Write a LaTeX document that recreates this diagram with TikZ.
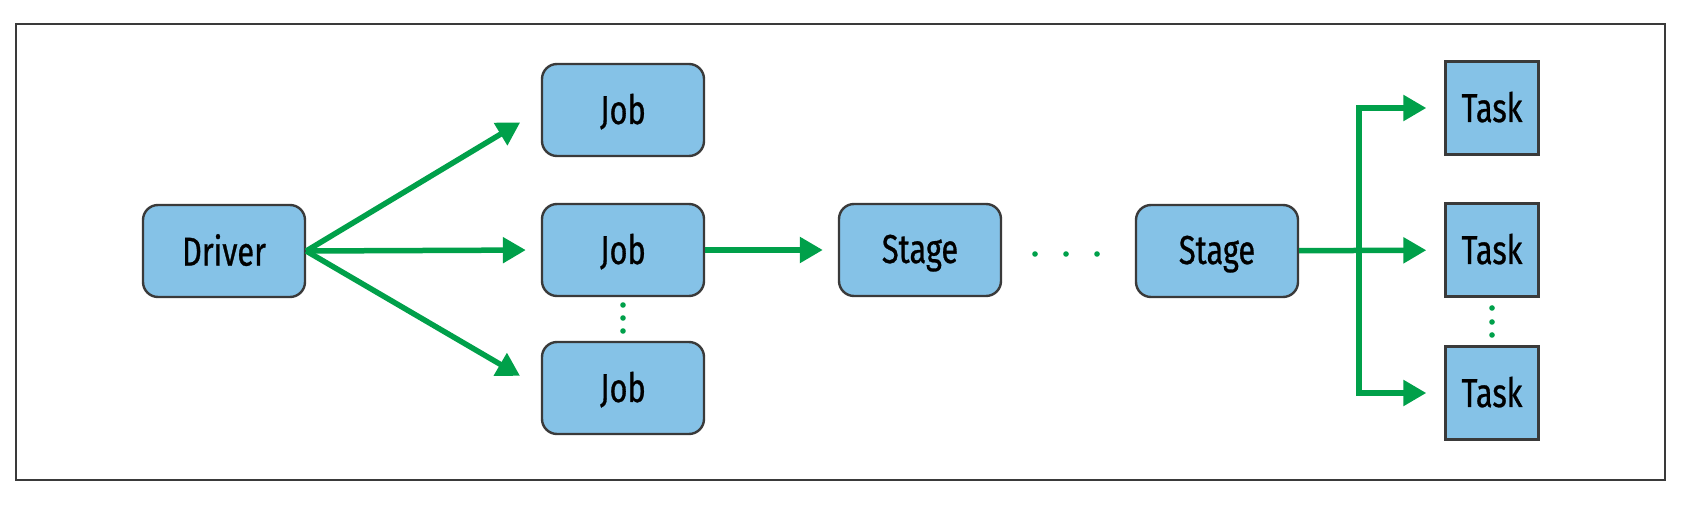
\documentclass[tikz,border=0pt]{standalone}
\usepackage{fontspec}
\setmainfont{Fira Sans}[FakeStretch=0.76,FakeBold=0.7]
\usepackage{tikz}
\usetikzlibrary{arrows.meta,positioning,calc}
\definecolor{box-bl}{RGB}{133, 194, 231}
\definecolor{box-dr}{RGB}{58, 58, 58}
\definecolor{flow-gr}{RGB}{0, 160, 74}
\newlength{\px}
\setlength{\px}{0.02cm}
\tikzstyle{node}=[draw=box-dr,fill=box-bl,line width=2.4\px,align=center,font=\fontsize{23}{27}\selectfont,text depth=.25ex]
\tikzstyle{rbox}=[node,rounded corners=15\px,minimum width=162\px,minimum height=92\px]
\tikzstyle{sbox}=[node,minimum width=93\px,minimum height=93\px]
\tikzstyle{arrow}=[draw=flow-gr,line width=5.5\px,-{Triangle[length=0.46cm,width=0.5cm]}]
\tikzstyle{dot}=[fill=flow-gr]

\begin{document}
\begin{tikzpicture}[x=0.02cm,y=-0.02cm]

  \useasboundingbox (0,0) rectangle (1686,526);
  \draw[line width=2.4\px,draw=box-dr] (16,24) rectangle (1665,480);

  \node[rbox] at (224,251) (driver) {Driver};

  \node[rbox] at (623,110) (job1) {Job};
  \node[rbox] at (623,250) (job2) {Job};
  \node[rbox] at (623,388) (job3) {Job};

  \draw[arrow,shorten >=24\px] (driver.east) -- (job1.west);
  \draw[arrow,shorten >=15\px] (driver.east) -- (job2.west);
  \draw[arrow,shorten >=24\px] (driver.east) -- (job3.west);

  \foreach \y in {305,318,331} \fill[dot] (job2|-0,\y) circle (2.8\px);

  \node[rbox] at (920,250) (stage1) {Stage};
  \draw[arrow,shorten >=15\px] (job2) -- (stage1);

  \foreach \x in {1035,1066,1097} \fill[dot] (\x,254) circle (2.8\px);

  \node[rbox] at (1217,251) (stage2) {Stage};

  \node[sbox] at (1492,108) (task1) {Task};
  \node[sbox] at (1492,250) (task2) {Task};
  \node[sbox] at (1492,393) (task3) {Task};

  \coordinate (fork) at (1359,0|-task2);
  \draw[arrow,shorten >=18\px] (stage2) -- (task2);
  \draw[arrow,shorten >=18\px] (fork) |- (task1.west);
  \draw[arrow,shorten >=18\px] (fork) |- (task3.west);

  \foreach \y in {308,322,335} \fill[dot] (task2|-0,\y) circle (2.8\px);

\end{tikzpicture}
\end{document}
